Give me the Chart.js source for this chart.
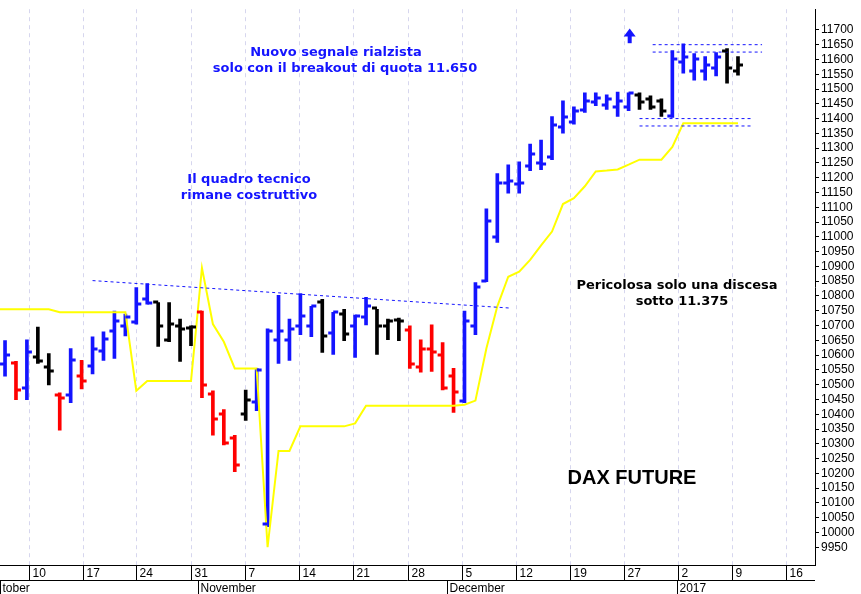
<!DOCTYPE html>
<html lang="it">
<head>
<meta charset="UTF-8" />
<title>DAX Future</title>
<script src="https://cdn.jsdelivr.net/npm/chart.js"></script>
<style>
  html, body { margin: 0; padding: 0; background: #fff; }
  canvas { display: block; }
</style>
</head>
<body>
<canvas id="dax" width="861" height="594"></canvas>
<script>
// daily bars, one per trading day (index 0 = Oct 6 2016)
const high  = [10649,10579,10652,10695,10605,10472,10622,10582,10662,10679,10749,10739,10828,10842,10778,10778,10722,10699,
               10749,10479,10416,10329,10482,10555,10689,10802,10722,10808,10765,10789,10745,10755,10735,10795,10755,10722,10725,
               10699,10652,10702,10642,10555,10749,10845,11095,11214,11244,11254,11314,11327,11407,11460,11440,11487,11487,11480,
               11490,11487,11487,11477,11467,11630,11653,11620,11610,11623,11637,11610];
const low   = [10529,10449,10449,10572,10499,10346,10439,10486,10536,10582,10589,10665,10705,10772,10629,10645,10579,10632,
               10456,10329,10296,10206,10379,10412,10020,10572,10582,10669,10662,10609,10602,10649,10592,10702,10602,10652,10649,
               10555,10542,10545,10482,10406,10439,10669,10848,10981,11148,11148,11224,11227,11261,11351,11381,11421,11444,11431,
               11407,11427,11431,11431,11407,11404,11554,11530,11530,11544,11520,11547];
const open  = [10570,10572,10490,10595,10560,10465,10465,10529,10562,10615,10682,10699,10712,10790,10778,10650,10700,10690,
               10745,10470,10400,10320,10400,10440,10030,10650,10650,10700,10700,10780,10675,10740,10700,10730,10760,10700,10720,
               10685,10560,10620,10600,10530,10445,10700,10850,11000,11181,11180,11240,11250,11270,11370,11390,11430,11455,11445,
               11440,11440,11480,11465,11460,11410,11590,11560,11560,11570,11630,11560];
const close = [10599,10482,10612,10580,10545,10455,10582,10512,10622,10655,10715,10729,10772,10775,10699,10705,10689,10695,
               10499,10383,10302,10229,10449,10549,10682,10682,10689,10732,10765,10665,10745,10672,10732,10765,10699,10715,10715,
               10569,10622,10609,10489,10476,10715,10830,11055,11181,11188,11181,11281,11247,11377,11404,11427,11460,11470,11465,
               11460,11487,11457,11440,11424,11600,11610,11600,11580,11610,11570,11580];
const barColor = ['b','r','b','k','k','r','b','r','b','b','b','b','b','b','k','k','k','k',
                  'r','r','r','r','k','b','b','b','b','b','b','k','b','k','b','b','k','k','k',
                  'r','r','r','r','r','b','b','b','b','b','b','b','b','b','b','b','b','b','b',
                  'b','b','k','k','k','b','b','b','b','b','k','k'];
// yellow stop line
const stopLine = [10755,10755,10755,10755,10755,10745,10745,10745,10745,10745,10745,10745,10479,10512,10512,10512,10512,10512,
                  10895,10705,10645,10555,10555,10555,9950,10276,10276,10359,10359,10359,10359,10359,10369,10429,10429,10429,10429,
                  10429,10429,10429,10429,10429,10432,10446,10622,10765,10865,10882,10922,10971,11018,11111,11131,11171,11221,11224,
                  11228,11244,11261,11261,11261,11304,11384,11384,11384,11384,11384,11384];
// axis labels
const weekIdx    = [2.19,7.13,11.97,17.0,21.94,26.87,31.8,36.84,41.77,46.71,51.65,56.58,61.51,66.45,71.39];
const weekLabels = ['10','17','24','31','7','14','21','28','5','12','19','27','2','9','16'];
const monthIdx    = [-0.46,17.6,40.4,61.4];
const monthLabels = ['tober','November','December','2017'];
const yTicks = [];
for (let v = 9950; v <= 11700; v += 50) yTicks.push(v);
// trend / level lines
const trendLine = [{x: 8.0, y: 10852}, {x: 46.2, y: 10759}];
const topLevels = [11650, 11625];
const lowLevels = [11400, 11375];

const colors = { b: '#1414ff', r: '#ff0000', k: '#000000' };

const hl = high.map((h, i) => ({ x: i, y: [low[i], h] }));
const yellow = [{ x: -0.46, y: stopLine[0] }].concat(stopLine.map((v, i) => ({ x: i, y: v })));

function levelSet(vals, x0, x1) {
  return vals.map(v => ({
    type: 'line', data: [{x: x0, y: v}, {x: x1, y: v}],
    borderColor: '#1414ff', borderWidth: 1, borderDash: [3, 3], pointRadius: 0
  }));
}

const drawPlugin = {
  id: 'drawPlugin',
  beforeDatasetsDraw(chart) {
    const { ctx, chartArea, scales: { x } } = chart;
    ctx.save();
    ctx.strokeStyle = '#d6d6ee';
    ctx.lineWidth = 1;
    ctx.setLineDash([4, 4]);
    weekIdx.forEach(w => {
      const px = Math.round(x.getPixelForValue(w)) + 0.5;
      ctx.beginPath(); ctx.moveTo(px, chartArea.top); ctx.lineTo(px, chartArea.bottom); ctx.stroke();
    });
    ctx.restore();
  },
  afterDatasetsDraw(chart) {
    const { ctx, scales: { x, y } } = chart;
    ctx.save();
    ctx.lineWidth = 3;
    high.forEach((h, i) => {
      const px = x.getPixelForValue(i);
      ctx.strokeStyle = colors[barColor[i]];
      const yo = Math.round(y.getPixelForValue(open[i]));
      const yc = Math.round(y.getPixelForValue(close[i]));
      ctx.beginPath(); ctx.moveTo(px - 5, yo); ctx.lineTo(px, yo); ctx.stroke();
      ctx.beginPath(); ctx.moveTo(px, yc); ctx.lineTo(px + 5, yc); ctx.stroke();
    });
    // arrow
    const ax = x.getPixelForValue(57.1);
    const ay0 = y.getPixelForValue(11705), ay1 = y.getPixelForValue(11655);
    ctx.fillStyle = '#1414ff';
    ctx.beginPath(); ctx.moveTo(ax, ay0); ctx.lineTo(ax - 6, ay0 + 8); ctx.lineTo(ax + 6, ay0 + 8); ctx.closePath(); ctx.fill();
    ctx.fillRect(ax - 2, ay0 + 7, 4, ay1 - ay0 - 7);
    ctx.restore();
  },
  afterDraw(chart) {
    const { ctx, chartArea, scales: { x } } = chart;
    ctx.save();
    // annotations
    ctx.textAlign = 'center';
    ctx.textBaseline = 'middle';
    ctx.fillStyle = '#1414ff';
    ctx.font = 'bold 13px "DejaVu Sans"';
    ctx.fillText('Nuovo segnale rialzista', 336, 53);
    ctx.fillText('solo con il breakout di quota 11.650', 345, 69);
    ctx.fillText('Il quadro tecnico', 249, 180);
    ctx.fillText('rimane costruttivo', 249, 196);
    ctx.fillStyle = '#000';
    ctx.fillText('Pericolosa solo una discesa', 677, 286);
    ctx.fillText('sotto 11.375', 682, 302);
    ctx.font = 'bold 20px "Liberation Sans"';
    ctx.fillText('DAX FUTURE', 632, 478);

    // bottom date axis
    const b = chartArea.bottom;
    ctx.strokeStyle = '#000';
    ctx.lineWidth = 1;
    ctx.beginPath(); ctx.moveTo(0, b + 0.5); ctx.lineTo(chartArea.right, b + 0.5); ctx.stroke();
    ctx.beginPath(); ctx.moveTo(0, b + 15.5); ctx.lineTo(chartArea.right, b + 15.5); ctx.stroke();
    ctx.textAlign = 'left';
    ctx.textBaseline = 'alphabetic';
    ctx.font = '12px "Liberation Sans Narrow", "Liberation Sans"';
    weekIdx.forEach((w, k) => {
      const px = Math.round(x.getPixelForValue(w)) + 0.5;
      ctx.beginPath(); ctx.moveTo(px, b); ctx.lineTo(px, b + 15); ctx.stroke();
      ctx.fillText(weekLabels[k], px + 3, b + 12);
    });
    monthIdx.forEach((m, k) => {
      const px = Math.max(0, Math.round(x.getPixelForValue(m))) + 0.5;
      ctx.beginPath(); ctx.moveTo(px, b + 15); ctx.lineTo(px, b + 29); ctx.stroke();
      ctx.fillText(monthLabels[k], px + 2, b + 27);
    });
    ctx.restore();
  }
};

new Chart(document.getElementById('dax'), {
  data: {
    datasets: [
      { type: 'bar', data: hl, backgroundColor: barColor.map(c => colors[c]), barThickness: 3, order: 2 },
      { type: 'line', data: yellow, borderColor: '#ffff00', borderWidth: 2, pointRadius: 0, tension: 0, order: 1 },
      { type: 'line', data: trendLine, borderColor: '#1414ff', borderWidth: 1, borderDash: [3, 3], pointRadius: 0 },
      ...levelSet(topLevels, 59.2, 69.2),
      ...levelSet(lowLevels, 58.0, 68.3)
    ]
  },
  options: {
    responsive: false,
    animation: false,
    layout: { padding: { top: 0, left: 0, right: 0, bottom: 29 } },
    plugins: { legend: { display: false }, tooltip: { enabled: false } },
    scales: {
      x: { type: 'linear', min: -0.46, max: 74.04, offset: false, display: false },
      y: {
        position: 'right', min: 9890, max: 11770,
        afterBuildTicks: s => { s.ticks = yTicks.map(v => ({ value: v })); },
        afterFit: s => { s.width = 46; },
        border: { color: '#000' },
        grid: { drawOnChartArea: false, tickLength: 4, color: '#000' },
        ticks: { color: '#000', padding: 2, autoSkip: false, callback: v => String(v),
                 font: { family: 'Liberation Sans', size: 12 } }
      }
    }
  },
  plugins: [drawPlugin]
});
</script>
</body>
</html>
